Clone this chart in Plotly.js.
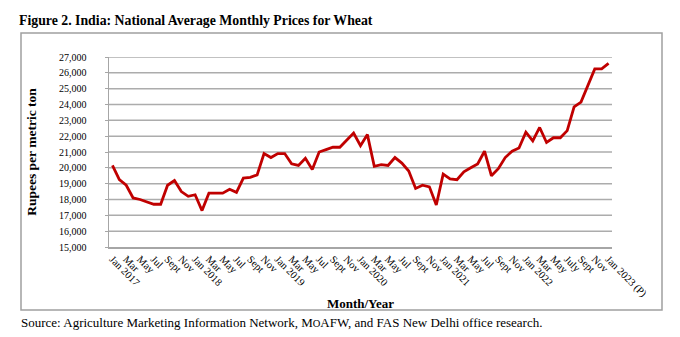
<!DOCTYPE html>
<html>
<head>
<meta charset="utf-8">
<script src="https://cdn.plot.ly/plotly-3.0.1.min.js"></script>
<style>html,body{margin:0;padding:0;background:#fff;}#chart{width:680px;height:337px;}</style>
</head>
<body>
<div id="chart"></div>
<script>
// Month index (Jan 2017 .. Jan 2023), monthly national average wheat prices (Rs/MT)
const monthIndex = [0,1,2,3,4,5,6,7,8,9,10,11,12,13,14,15,16,17,18,19,20,21,22,23,24,25,26,27,28,29,30,31,32,33,34,35,36,37,38,39,40,41,42,43,44,45,46,47,48,49,50,51,52,53,54,55,56,57,58,59,60,61,62,63,64,65,66,67,68,69,70,71,72];
const prices = [20150,19250,18900,18100,18000,17850,17700,17700,18900,19200,18500,18200,
  18300,17300,18400,18400,18400,18650,18450,19350,19400,19550,20900,20650,
  20900,20900,20250,20150,20600,19900,21000,21150,21300,21300,21750,22200,
  21400,22100,20100,20200,20150,20650,20300,19800,18700,18900,18800,17650,
  19600,19300,19250,19750,20000,20250,21050,19500,19950,20650,21050,21250,
  22250,21700,22550,21600,21900,21900,22350,23850,24150,25250,26250,26250,
  26600];
const tickPositions = [0,2,4,6,8,10,12,14,16,18,20,22,24,26,28,30,32,34,36,38,40,42,44,46,48,50,52,54,56,58,60,62,64,66,68,70,72];
const tickLabels = ["Jan 2017","Mar","May","Jul","Sept","Nov",
  "Jan 2018","Mar","May","Jul","Sept","Nov",
  "Jan 2019","Mar","May","Jul","Sept","Nov",
  "Jan 2020","Mar","May","Jul","Sept","Nov",
  "Jan 2021","Mar","May","Jul","Sept","Nov",
  "Jan 2022","Mar","May","July","Sept","Nov",
  "Jan 2023 (P)"];
const yTicks = [15000,16000,17000,18000,19000,20000,21000,22000,23000,24000,25000,26000,27000];

const serif = "Liberation Serif, Times New Roman, serif";
const L = 109, R = 612, T = 57, B = 247, W = 680, H = 337;
const pw = R - L, ph = B - T;
const xRange = [monthIndex[0] - 0.5, monthIndex[monthIndex.length - 1] + 0.5];

// horizontal gridlines at each y tick, as one line trace spanning the x range
const gx = [], gy = [];
yTicks.slice(1).forEach(v => { gx.push(xRange[0], xRange[1], null); gy.push(v, v, null); });
const gridTrace = {
  x: gx, y: gy, type: "scatter", mode: "lines", connectgaps: false,
  line: {color: "#acacac", width: 1.5}, hoverinfo: "skip", cliponaxis: false
};

const trace = {
  x: monthIndex, y: prices, type: "scatter", mode: "lines",
  line: {color: "#c00000", width: 2.8}, hoverinfo: "y"
};

const layout = {
  width: W, height: H,
  margin: {l: L, r: W - R, t: T, b: H - B, pad: 0},
  paper_bgcolor: "#fff", plot_bgcolor: "#fff",
  showlegend: false,
  font: {family: serif, color: "#000"},
  title: {
    text: "<b>Figure 2. India: National Average Monthly Prices for Wheat</b>",
    font: {family: serif, size: 13.8, color: "#000"},
    x: 19 / W, xanchor: "left", xref: "container",
    y: 1 - 20 / H, yanchor: "middle", yref: "container"
  },
  xaxis: {
    range: xRange, tickmode: "array", tickvals: tickPositions, ticktext: tickLabels,
    tickangle: 45, tickfont: {family: serif, size: 10.5, color: "#000"},
    showgrid: false, zeroline: false, showline: true, linecolor: "#a6a6a6", linewidth: 2,
    ticks: "", automargin: false,
    title: {text: "<b>Month/Year</b>", font: {family: serif, size: 13, color: "#000"}, standoff: 0}
  },
  yaxis: {
    range: [15000, 27000], tickmode: "array", tickvals: yTicks,
    tickformat: ",d", tickfont: {family: serif, size: 10, color: "#000"},
    showgrid: false, zeroline: false,
    showline: true, linecolor: "#a6a6a6", linewidth: 1.5,
    ticks: "outside", ticklen: 3, tickwidth: 1, tickcolor: "#a6a6a6", ticklabelstandoff: 16,
    automargin: false,
    title: {text: "<b>Rupees per metric ton</b>", font: {family: serif, size: 13.5, color: "#000"}, standoff: 19}
  },
  shapes: [{
    type: "rect", xref: "paper", yref: "paper", layer: "above",
    x0: (21 - L) / pw, x1: (662 - L) / pw,
    y0: (B - 310) / ph, y1: (B - 33) / ph,
    line: {color: "#a0a0a0", width: 1.5}, fillcolor: "rgba(0,0,0,0)"
  }],
  annotations: [{
    xref: "paper", yref: "paper", x: (19 - L) / pw, y: (B - 322) / ph,
    xanchor: "left", yanchor: "middle", showarrow: false,
    text: "Source: Agriculture Marketing Information Network, M<span style=\"font-size:10.5px\">O</span>AFW, and FAS New Delhi office research.",
    font: {family: serif, size: 13, color: "#000"}
  }]
};

Plotly.newPlot("chart", [gridTrace, trace], layout, {displayModeBar: false, staticPlot: true});
</script>
</body>
</html>
